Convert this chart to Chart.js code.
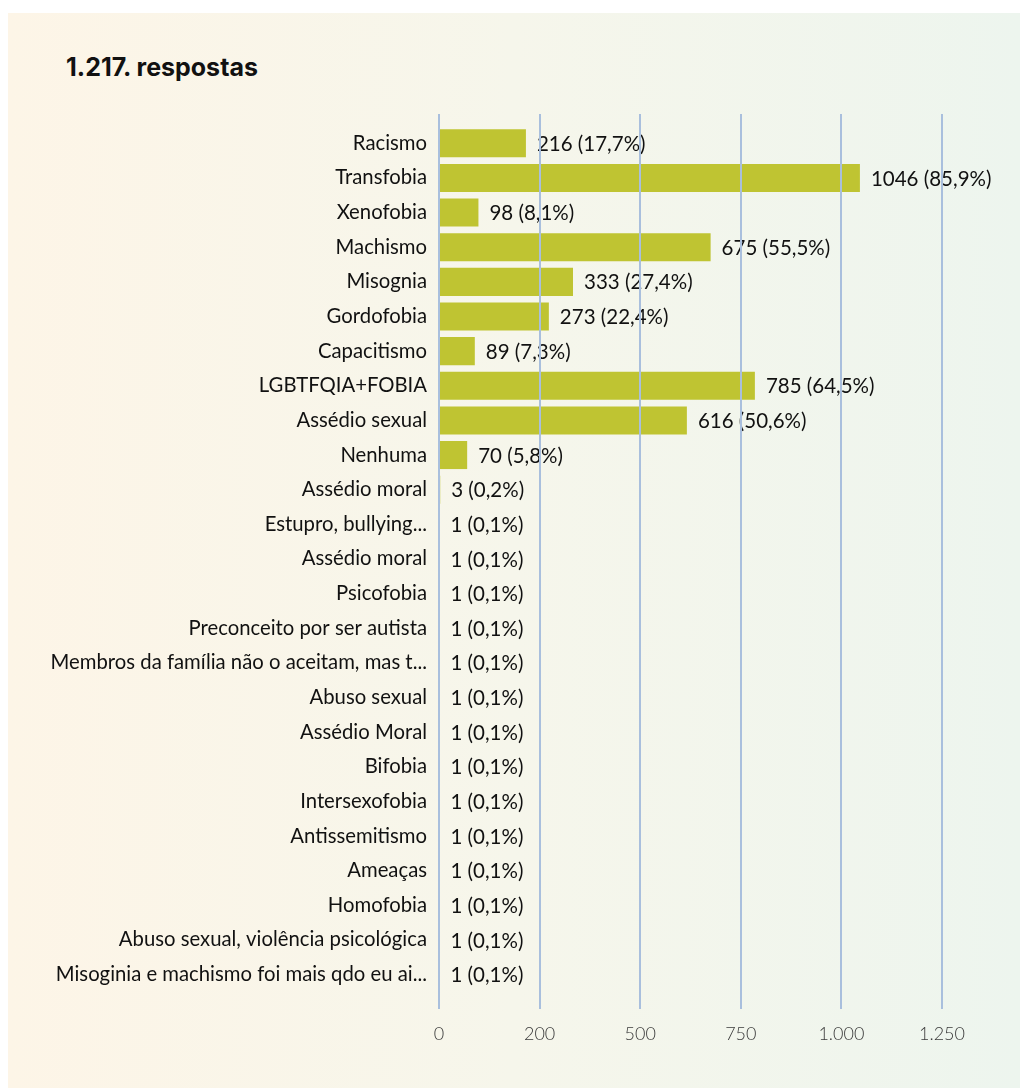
<!DOCTYPE html>
<html>
<head>
<meta charset="utf-8">
<script src="https://cdn.jsdelivr.net/npm/chart.js@4"></script>
<style>
  html, body { margin: 0; padding: 0; background: #ffffff; }
  #wrap { position: relative; width: 1020px; height: 1090px; overflow: hidden; }
  #panel {
    position: absolute; left: 8px; top: 13px; width: 1012px; height: 1075px;
    background: linear-gradient(90deg, #fdf5e7 0%, #f6f6eb 50%, #edf5ee 100%);
  }
  #title {
    position: absolute; left: 66px; top: 52px;
    font-family: Inter, Roboto, "Open Sans", sans-serif; font-weight: 700; font-size: 25px;
    color: #111; letter-spacing: 0px; line-height: 30px;
  }
  canvas { position: absolute; left: 0; top: 0; }
</style>
</head>
<body>
<div id="wrap">
  <div id="panel"></div>
  <div id="title">1.217. respostas</div>
  <canvas id="c" width="1020" height="1090"></canvas>
</div>
<script>
const categories = [
  'Racismo', 'Transfobia', 'Xenofobia', 'Machismo', 'Misognia', 'Gordofobia',
  'Capacitismo', 'LGBTFQIA+FOBIA', 'Assédio sexual', 'Nenhuma', 'Assédio moral',
  'Estupro, bullying...', 'Assédio moral', 'Psicofobia', 'Preconceito por ser autista',
  'Membros da família não o aceitam, mas t...', 'Abuso sexual', 'Assédio Moral',
  'Bifobia', 'Intersexofobia', 'Antissemitismo', 'Ameaças', 'Homofobia',
  'Abuso sexual, violência psicológica', 'Misoginia e machismo foi mais qdo eu ai...'
];
const counts = [216, 1046, 98, 675, 333, 273, 89, 785, 616, 70, 3,
  1, 1, 1, 1, 1, 1, 1, 1, 1, 1, 1, 1, 1, 1];
const percents = ['17,7%', '85,9%', '8,1%', '55,5%', '27,4%', '22,4%', '7,3%', '64,5%',
  '50,6%', '5,8%', '0,2%', '0,1%', '0,1%', '0,1%', '0,1%', '0,1%', '0,1%', '0,1%',
  '0,1%', '0,1%', '0,1%', '0,1%', '0,1%', '0,1%', '0,1%'];
const tickValues = [0, 250, 500, 750, 1000, 1250];
const tickLabels = ['0', '200', '500', '750', '1.000', '1.250'];

const BAR_COLOR = '#bfc432';
const GRID_COLOR = '#a9bfdd';

const valueLabels = {
  id: 'valueLabels',
  afterDatasetsDraw(chart) {
    const ctx = chart.ctx;
    const meta = chart.getDatasetMeta(0);
    ctx.save();
    ctx.font = '20.5px Lato, "Open Sans", sans-serif';
    ctx.fillStyle = '#111111';
    ctx.textAlign = 'left';
    ctx.textBaseline = 'middle';
    meta.data.forEach((bar, i) => {
      ctx.fillText(counts[i] + ' (' + percents[i] + ')', bar.x + 11, bar.y + 1);
    });
    ctx.restore();
  }
};

const setTicks = (scale) => { scale.ticks = tickValues.map(v => ({ value: v })); };

new Chart(document.getElementById('c'), {
  type: 'bar',
  data: {
    labels: categories,
    datasets: [{
      data: counts,
      backgroundColor: BAR_COLOR,
      borderWidth: 0,
      barPercentage: 0.81,
      categoryPercentage: 1.0
    }]
  },
  options: {
    indexAxis: 'y',
    responsive: false,
    animation: false,
    maintainAspectRatio: false,
    layout: { padding: { left: 0, right: 78, top: 114, bottom: 31.5 } },
    plugins: { legend: { display: false }, tooltip: { enabled: false }, title: { display: false } },
    scales: {
      x: {
        type: 'linear', position: 'bottom', min: 0, max: 1250,
        afterBuildTicks: setTicks,
        ticks: {
          callback: (v, i) => tickLabels[i],
          font: { family: 'Lato, "Open Sans", sans-serif', size: 18, weight: '300' },
          color: '#3a3a3a',
          padding: 14,
          maxRotation: 0,
          autoSkip: false
        },
        grid: { color: GRID_COLOR, lineWidth: 2, tickLength: 17, z: 1 },
        border: { display: false }
      },
      x2: {
        type: 'linear', position: 'top', min: 0, max: 1250,
        afterBuildTicks: setTicks,
        ticks: { display: false },
        grid: { color: GRID_COLOR, lineWidth: 2, tickLength: 12, drawOnChartArea: false, z: 1 },
        border: { display: false }
      },
      y: {
        type: 'category',
        grid: { display: false },
        border: { display: false },
        ticks: {
          autoSkip: false,
          font: { family: 'Lato, "Open Sans", sans-serif', size: 20.3 },
          color: '#111111',
          padding: 4
        },
        afterFit: (scale) => { scale.width = 439; }
      }
    }
  },
  plugins: [valueLabels]
});
</script>
</body>
</html>
